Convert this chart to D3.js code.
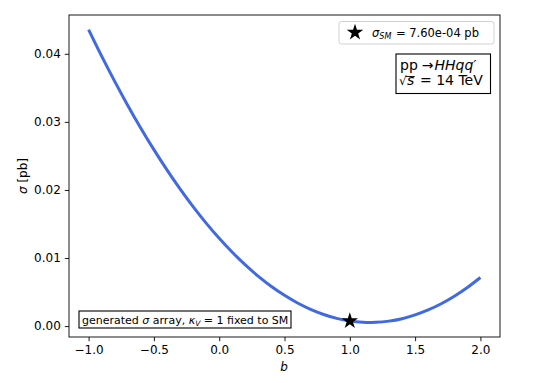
<!DOCTYPE html>
<html><head><meta charset="utf-8">
<script src="https://cdn.jsdelivr.net/npm/d3@7"></script>
<style>
body{margin:0;background:#fff;}
text{font-family:"DejaVu Sans",sans-serif;}
</style></head>
<body><svg id="c" width="556" height="383"></svg>
<script>
const bValues = [-1.0,-0.9,-0.8,-0.7,-0.6,-0.5,-0.4,-0.3,-0.2,-0.1,0.0,0.1,0.2,0.3,0.4,0.5,0.6,0.7,0.8,0.9,1.0,1.1,1.2,1.3,1.4,1.5,1.6,1.7,1.8,1.9,2.0];
const sigmaValues = [0.04356,0.03966,0.03595,0.03242,0.02907,0.02592,0.02294,0.02015,0.01755,0.01513,0.01290,0.01085,0.00899,0.00731,0.00582,0.00452,0.00339,0.00246,0.00171,0.00114,0.00076,0.00057,0.00055,0.00073,0.00109,0.00164,0.00237,0.00328,0.00438,0.00567,0.00714];
const smPoint = {b:1.0, sigma:0.00076};
const xTicks = [-1.0,-0.5,0.0,0.5,1.0,1.5,2.0];
const yTicks = [0.00,0.01,0.02,0.03,0.04];

const svg = d3.select("#c");
const L=69,R=500,T=15,B=337;
const x = d3.scaleLinear().domain([-1.15,2.15]).range([L,R]);
const y = d3.scaleLinear().domain([-0.0016,0.0457]).range([B,T]);

// axes
const xa = svg.append("g").attr("transform",`translate(0,${B})`)
  .call(d3.axisBottom(x).tickValues(xTicks).tickFormat(d=>d3.format(".1f")(d).replace("-","\u2212")).tickSize(4.2).tickPadding(4.4));
const ya = svg.append("g").attr("transform",`translate(${L},0)`)
  .call(d3.axisLeft(y).tickValues(yTicks).tickFormat(d3.format(".2f")).tickSize(4.2).tickPadding(4));
[xa,ya].forEach(a=>{a.select(".domain").remove();a.selectAll("line").attr("stroke","#000").attr("stroke-width",0.9);
  a.selectAll("text").attr("font-size",12).attr("fill","#000").style("font-family","DejaVu Sans");});

// line
svg.append("path").datum(bValues.map((b,i)=>[b,sigmaValues[i]]))
  .attr("fill","none").attr("stroke","#4169E1").attr("stroke-width",3)
  .attr("d",d3.line().x(d=>x(d[0])).y(d=>y(d[1])).curve(d3.curveCatmullRom));

// spines
svg.append("rect").attr("x",L).attr("y",T).attr("width",R-L).attr("height",B-T)
  .attr("fill","none").attr("stroke","#000").attr("stroke-width",0.9);

// star
const star = d3.symbol().type(d3.symbolStar).size(85);
svg.append("path").attr("d",star()).attr("transform",`translate(${x(smPoint.b)},${y(smPoint.sigma)})`).attr("fill","#000");

// axis labels
svg.append("text").attr("x",284).attr("y",371).attr("text-anchor","middle").attr("font-size",12).attr("font-style","italic").text("b");
const yl = svg.append("text").attr("transform","translate(27,176) rotate(-90)").attr("text-anchor","middle").attr("font-size",12);
yl.append("tspan").attr("font-style","italic").text("\u03C3");
yl.append("tspan").text(" [pb]");

// legend
svg.append("rect").attr("x",339).attr("y",21.5).attr("width",155).attr("height",22.5).attr("rx",2.5)
  .attr("fill","#fff").attr("fill-opacity",0.8).attr("stroke","#ccc").attr("stroke-width",0.9);
svg.append("path").attr("d",star()).attr("transform","translate(355,32.5)").attr("fill","#000");
const lt = svg.append("text").attr("x",372).attr("y",36.5).attr("font-size",11.5);
lt.append("tspan").attr("font-style","italic").text("\u03C3");
lt.append("tspan").attr("font-style","italic").attr("font-size",8).attr("dy",2).text("SM");
lt.append("tspan").attr("dy",-2).attr("dx",1).text(" = 7.60e-04 pb");

// process box
svg.append("rect").attr("x",396).attr("y",54).attr("width",94.5).attr("height",39.5)
  .attr("fill","#fff").attr("stroke","#000").attr("stroke-width",1.1);
const p1 = svg.append("text").attr("x",400).attr("y",70).attr("font-size",14);
p1.append("tspan").text("pp");
p1.append("tspan").attr("dx",4).text("\u2192");
p1.append("tspan").attr("dx",1).attr("font-style","italic").text("HHqq\u2032");
const p2 = svg.append("text").attr("y",85).attr("font-size",14);
p2.append("tspan").attr("x",399).attr("font-size",12).text("\u221A");
const sT = p2.append("tspan").attr("x",407).attr("font-style","italic").text("s");
p2.append("tspan").attr("x",420).text("= 14 TeV");
const sb = sT.node().getBBox();
svg.append("line").attr("x1",405.5).attr("x2",sb.x+sb.width+0.5).attr("y1",76.5).attr("y2",76.5).attr("stroke","#000").attr("stroke-width",0.9);

// bottom-left box
svg.append("rect").attr("x",79).attr("y",311).attr("width",212).attr("height",17)
  .attr("fill","#fff").attr("stroke","#000").attr("stroke-width",1.1);
const bt = svg.append("text").attr("x",82).attr("y",323.5).attr("font-size",11);
bt.append("tspan").text("generated ");
bt.append("tspan").attr("font-style","italic").text("\u03C3");
bt.append("tspan").text(" array, ");
bt.append("tspan").attr("font-style","italic").text("\u03BA");
bt.append("tspan").attr("font-style","italic").attr("font-size",7.5).attr("dy",2).text("V");
bt.append("tspan").attr("dy",-2).text(" = 1 fixed to SM");
</script></body></html>
